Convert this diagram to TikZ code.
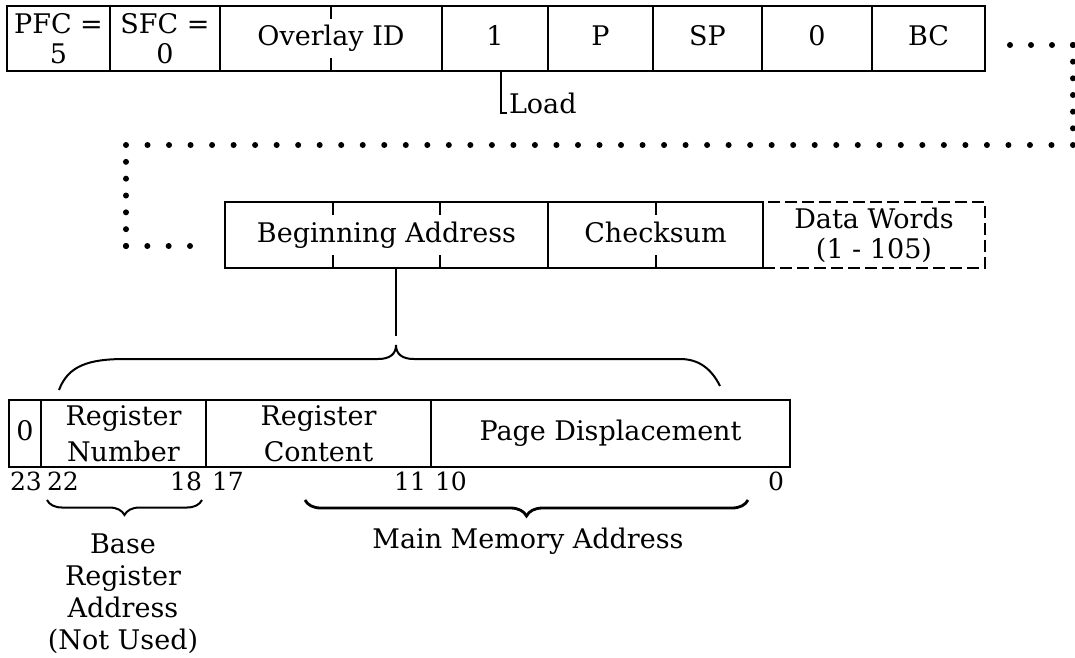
\documentclass[tikz,border=0pt]{standalone}
\usepackage{fontspec}
\setmainfont{DejaVu Serif}
\usetikzlibrary{positioning,calc,decorations.pathreplacing}

\begin{document}
\begin{tikzpicture}[x=1pt, y=-1pt, line width=2pt, every node/.style={font=\fontsize{27}{30}\selectfont}]
    \tikzstyle{fld} = [rectangle, draw, outer sep=0pt, inner sep=2pt, align=center, minimum height=65pt]
    \tikzstyle{sgl} = [fld, text height=20pt, text depth=6pt]
    \tikzstyle{wide} = [fld, font=\fontsize{27}{36}\selectfont, minimum height=67pt]
    \tikzstyle{bit} = [inner sep=0pt, font=\fontsize{25}{25}\selectfont]
    \tikzstyle{dotrow} = [line width=6pt, line cap=round]
    \tikzstyle{brc} = [decorate, decoration={brace, mirror, amplitude=15pt}]
    \tikzstyle{note} = [inner sep=0pt, align=center, font=\fontsize{27}{32}\selectfont]

    \useasboundingbox (0,0) rectangle (1075,657);

    % loader header
    \node [fld, minimum width=103pt, anchor=north west] (pfc) at (7,6) {PFC =\\5};
    \node [fld, minimum width=110pt, right=0pt of pfc] (sfc) {SFC =\\0};
    \node [sgl, minimum width=222pt, right=0pt of sfc] (ovl) {Overlay ID};
    \node [sgl, minimum width=106pt, right=0pt of ovl] (one) {1};
    \node [sgl, minimum width=105pt, right=0pt of one] (pp) {P};
    \node [sgl, minimum width=109pt, right=0pt of pp] (sp) {SP};
    \node [sgl, minimum width=110pt, right=0pt of sp] (zro) {0};
    \node [sgl, minimum width=113pt, right=0pt of zro] (bc) {BC};
    \draw (ovl.north) -- ++(0,13);
    \draw (ovl.south) -- ++(0,-13);

    \node [inner sep=1pt, anchor=base west] (load) at (507,113) {Load};
    \coordinate (ldtop) at ([xshift=6pt]one.south);
    \draw [line width=1.6pt] (ldtop) |- (load.base west);

    % data record
    \node [sgl, minimum width=323pt, minimum height=66pt, anchor=north west] (beg) at (225,202) {Beginning Address};
    \node [sgl, minimum width=215pt, minimum height=66pt, right=0pt of beg] (chk) {Checksum};
    \node [fld, dash pattern=on 12pt off 5pt, minimum width=222pt, minimum height=66pt, right=0pt of chk] (dat) {Data Words\\(1 - 105)};
    \draw ($(beg.north west)!1/3!(beg.north east)$) -- ++(0,13);
    \draw ($(beg.north west)!2/3!(beg.north east)$) -- ++(0,13);
    \draw ($(beg.south west)!1/3!(beg.south east)$) -- ++(0,-13);
    \draw ($(beg.south west)!2/3!(beg.south east)$) -- ++(0,-13);
    \draw (chk.north) -- ++(0,13);
    \draw (chk.south) -- ++(0,-13);

    % continuation dots
    \coordinate (dA) at ([xshift=25pt, yshift=-6.5pt]bc.east);
    \coordinate (dB) at (1073,45);
    \coordinate (dC) at (1073,145);
    \coordinate (dD) at (126,145);
    \coordinate (dE) at (126,246);
    \coordinate (dF) at ([xshift=-35pt, yshift=-11pt]beg.west);
    \draw [dotrow, dash pattern=on 0pt off 21pt] (dA) -- (dB);
    \draw [dotrow, dash pattern=on 0pt off 16.667pt] (dB) -- (dC);
    \draw [dotrow, dash pattern=on 0pt off 21.523pt] (dC) -- (dD);
    \draw [dotrow, dash pattern=on 0pt off 16.833pt] (dD) -- (dE);
    \draw [dotrow, dash pattern=on 0pt off 21.333pt] (dE) -- (dF);

    % address word
    \node [wide, minimum width=32pt, anchor=north west, text height=20pt, text depth=6pt] (sgn) at (9,400) {0};
    \node [wide, minimum width=165pt, right=0pt of sgn] (rnum) {Register\\Number};
    \node [wide, minimum width=225pt, right=0pt of rnum] (rcon) {Register\\Content};
    \node [wide, minimum width=359pt, right=0pt of rcon, text height=20pt, text depth=6pt] (pdsp) {Page Displacement};

    \coordinate (brtip) at (396,345);
    \draw (beg.south -| brtip) -- ([yshift=9pt]brtip);
    \draw (59,390) .. controls (68,366) and (88,359) .. (125,359) -- (378,359)
        .. controls (390,359) and (396,354) .. (brtip)
        .. controls (396,354) and (402,359) .. (414,359) -- (680,359)
        .. controls (700,359) and (712,370) .. (720,386);

    % bit positions
    \node [bit, anchor=north west] (b23) at ([yshift=-4pt]sgn.south west) {23};
    \node [bit, anchor=north west] (b22) at ([xshift=5pt, yshift=-4pt]rnum.south west) {22};
    \node [bit, anchor=north east] (b18) at ([xshift=-3pt, yshift=-4pt]rnum.south east) {18};
    \node [bit, anchor=north west] (b17) at ([xshift=5pt, yshift=-4pt]rcon.south west) {17};
    \node [bit, anchor=north east] (b11) at ([xshift=-4pt, yshift=-4pt]rcon.south east) {11};
    \node [bit, anchor=north west] (b10) at ([xshift=3pt, yshift=-4pt]pdsp.south west) {10};
    \node [bit, anchor=north east] (b0) at ([xshift=-5pt, yshift=-4pt]pdsp.south east) {0};

    % meaning of the fields
    \draw [brc] (47,500) -- (202,500);
    \draw [brc, line width=2.8pt, decoration={amplitude=16pt}] (305,500) -- (748,500);
    \node [note, anchor=north] (bra) at (123,533) {Base\\Register\\Address\\(Not Used)};
    \node [note, anchor=north] (mma) at (528,527) {Main Memory Address};
\end{tikzpicture}
\end{document}
